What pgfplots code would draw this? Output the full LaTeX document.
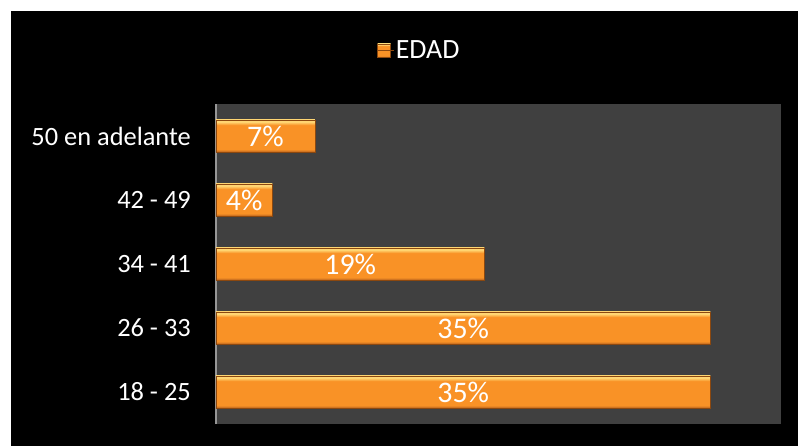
\documentclass[border=0pt]{standalone}
\usepackage{pgfplots}
\pgfplotsset{compat=1.18}
\usetikzlibrary{backgrounds}
\usepackage{fontspec}
\setmainfont{Carlito}
\definecolor{plotbg}{RGB}{64,64,64}
\definecolor{bartop}{RGB}{255,214,115}
\definecolor{barmid}{RGB}{249,146,38}
\definecolor{barbot}{RGB}{185,98,30}
\definecolor{baredge}{RGB}{140,72,15}
\pgfdeclareverticalshading{barshade}{100bp}{color(0bp)=(barbot); color(25bp)=(barbot); color(29bp)=(barmid); color(67bp)=(barmid); color(72bp)=(bartop); color(75bp)=(bartop); color(100bp)=(bartop)}
\pgfplotsset{
  onebar/.style={xbar, bar width=32bp, bar shift=0pt, shading=barshade,
    draw=baredge, line width=0.6bp,
    point meta=explicit symbolic,
    visualization depends on={x \as \rawx},
    nodes near coords={\pgfplotspointmeta\%},
    every node near coord/.append style={anchor=center, text=white,
      font=\fontsize{30}{34}\selectfont, inner sep=0pt,
      xshift={-0.5*\rawx*14.125bp}}},
}
\begin{document}
\begin{tikzpicture}
\begin{axis}[
  scale only axis, width=565bp, height=320bp,
  xmin=0, xmax=40, ymin=-0.5, ymax=4.5,
  axis background/.style={fill=plotbg},
  axis lines=left,
  axis line style={-},
  x axis line style={draw=none},
  y axis line style={draw={rgb,255:red,150;green,150;blue,150}, line width=1.5bp},
  xtick=\empty,
  ytick={0,1,2,3,4},
  yticklabels={18 - 25, 26 - 33, 34 - 41, 42 - 49, 50 en adelante},
  tick style={draw=none},
  major tick length=0pt,
  yticklabel style={text=white, inner sep=0pt, font=\fontsize{26.5}{30}\selectfont},
  yticklabel shift=25bp,
  legend style={at={(0.36,1.169)}, anchor=center, draw=none, fill=none,
    text=white, font=\fontsize{28}{32}\selectfont},
  legend image code/.code={\shade[shading=barshade, draw=baredge] (0bp,-7bp) rectangle (13bp,6bp); \path (0bp,0bp) -- (16bp,0bp);},
]
\addplot[onebar] coordinates {(35,0) [35]};
\addlegendentry{EDAD}
\addplot[onebar, forget plot] coordinates {(35,1) [35]};
\addplot[onebar, forget plot] coordinates {(19,2) [19]};
\addplot[onebar, forget plot] coordinates {(4,3) [4]};
\addplot[onebar, forget plot] coordinates {(7,4) [7]};
\end{axis}
\begin{scope}[on background layer]
\fill[white] (-216bp,-22bp) rectangle (582bp,424bp);
\fill[black] (-205bp,-22bp) rectangle (582bp,413bp);
\end{scope}
\end{tikzpicture}
\end{document}
